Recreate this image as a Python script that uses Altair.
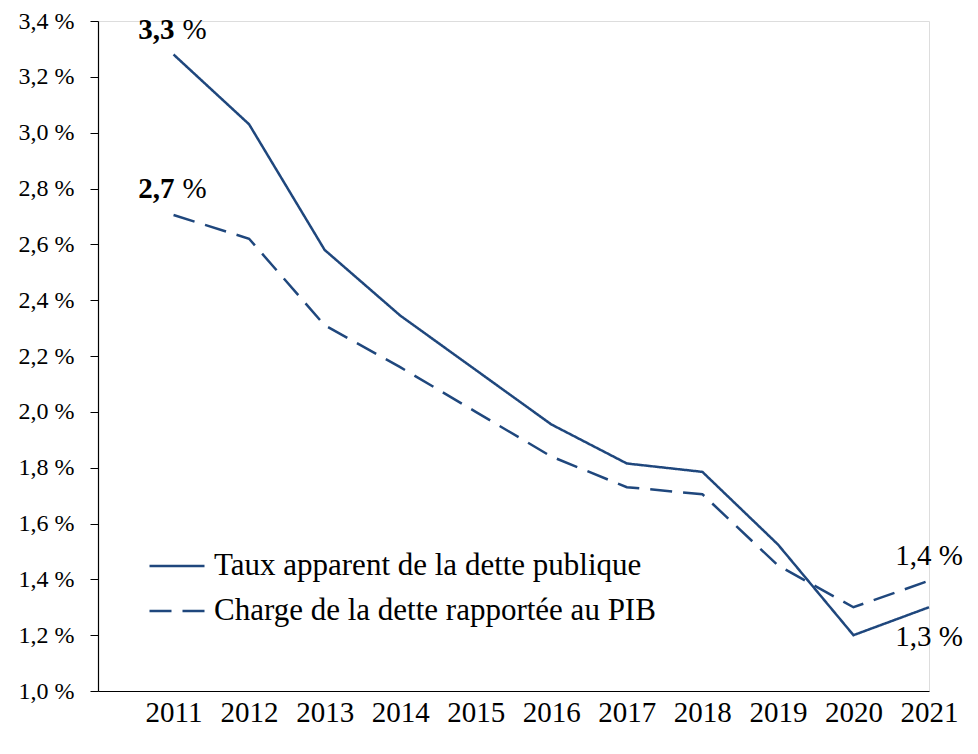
import altair as alt
import pandas as pd

FONT = "Liberation Serif"
BLUE = "#1F477D"

years = [2011, 2012, 2013, 2014, 2015, 2016, 2017, 2018, 2019, 2020, 2021]
taux = [3.28, 3.03, 2.58, 2.345, 2.15, 1.955, 1.815, 1.785, 1.525, 1.20, 1.30]
charge = [2.705, 2.62, 2.31, 2.16, 2.00, 1.84, 1.73, 1.705, 1.45, 1.30, 1.395]
series = ["Taux apparent de la dette publique", "Charge de la dette rapportée au PIB"]
y_ticks = [1.0, 1.2, 1.4, 1.6, 1.8, 2.0, 2.2, 2.4, 2.6, 2.8, 3.0, 3.2, 3.4]

bold_years = [2011, 2011]
bold_vals = [3.368, 2.797]
bold_nums = ["3,3", "2,7"]
plain_years = [2021, 2021]
plain_vals = [1.485, 1.193]
plain_txt = ["1,4 %", "1,3 %"]

rows = []
for s, vals in zip(series, [taux, charge]):
    for yr, v in zip(years, vals):
        rows.append({"year": yr, "value": v, "series": s})
df = pd.DataFrame(rows)

xscale = alt.Scale(domain=[2010, 2021], nice=False, zero=False)
yscale = alt.Scale(domain=[1.0, 3.4], nice=False, zero=False)

lines = alt.Chart(df).mark_line(color=BLUE, strokeWidth=2.5).encode(
    x=alt.X("year:Q", scale=xscale, title=None,
            axis=alt.Axis(values=years, format="d", ticks=False, grid=False,
                          labelFont=FONT, labelFontSize=29, labelColor="black",
                          labelPadding=7, labelFlush=False, labelOverlap=False,
                          domainColor="black", domainWidth=1.2)),
    y=alt.Y("value:Q", scale=yscale, title=None,
            axis=alt.Axis(values=y_ticks, grid=False,
                          labelExpr="replace(format(datum.value, '.1f'), '.', ',') + ' %'",
                          labelFont=FONT, labelFontSize=24, labelColor="black",
                          labelPadding=16, tickSize=8, tickColor="black",
                          domainColor="black", domainWidth=1.2, labelOverlap=False)),
    strokeDash=alt.StrokeDash("series:N",
                              scale=alt.Scale(domain=series, range=[[1, 0], [22, 11]]),
                              legend=alt.Legend(title=None, orient="none", legendX=50, legendY=516,
                                                symbolType="stroke", symbolSize=3025,
                                                symbolStrokeColor=BLUE, symbolStrokeWidth=2.5,
                                                labelFont=FONT, labelFontSize=31, labelColor="black",
                                                labelOffset=8, rowPadding=1, labelLimit=700)),
)

bold_df = pd.DataFrame({"year": bold_years, "value": bold_vals, "num": bold_nums})
bold_num = alt.Chart(bold_df).mark_text(font=FONT, fontSize=29, fontWeight="bold",
                                        align="right", baseline="middle", dx=1, color="black").encode(
    x=alt.X("year:Q", scale=xscale), y=alt.Y("value:Q", scale=yscale), text="num:N")
bold_pct = alt.Chart(bold_df).mark_text(font=FONT, fontSize=29, align="left",
                                        baseline="middle", dx=9, color="black").encode(
    x=alt.X("year:Q", scale=xscale), y=alt.Y("value:Q", scale=yscale), text=alt.value("%"))

plain_df = pd.DataFrame({"year": plain_years, "value": plain_vals, "txt": plain_txt})
plain = alt.Chart(plain_df).mark_text(font=FONT, fontSize=29, align="center",
                                      baseline="middle", color="black").encode(
    x=alt.X("year:Q", scale=xscale), y=alt.Y("value:Q", scale=yscale), text="txt:N")

chart = alt.layer(lines, bold_num, bold_pct, plain).properties(
    width=831, height=670, autosize="none",
    padding={"left": 90, "top": 13, "right": 40, "bottom": 55},
).configure_view(stroke=None).configure(background="white", font=FONT).configure_axis(
    labelFont=FONT).configure_legend(labelFont=FONT)

chart.save("out.html", embed_options={"renderer": "svg", "actions": False})
